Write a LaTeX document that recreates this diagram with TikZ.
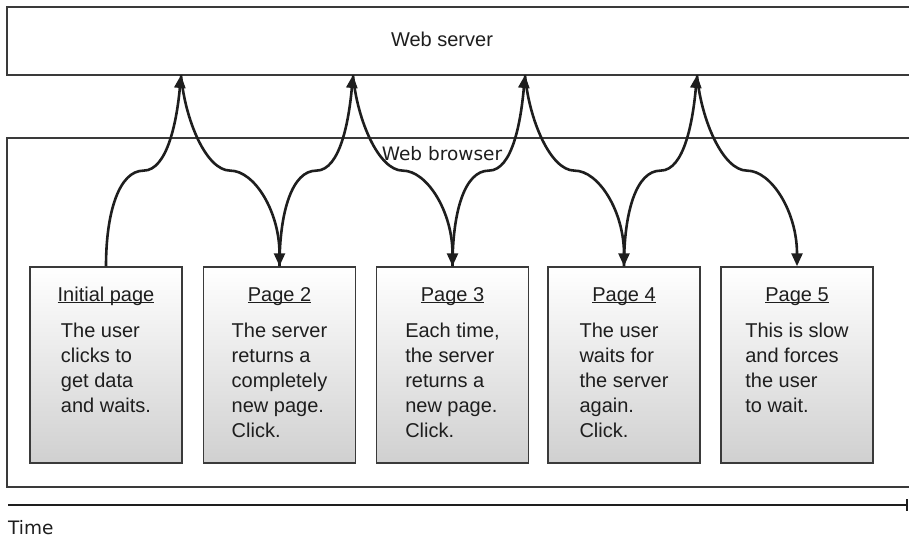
\documentclass[tikz,border=0pt]{standalone}
\usepackage{fontspec}
\setmainfont{Liberation Sans}
\newfontfamily\verdfont{DejaVu Sans}
\usetikzlibrary{calc,arrows.meta}
\definecolor{inkx}{HTML}{1E1E1E}
\definecolor{edgex}{HTML}{3A3A3A}
\definecolor{shadex}{HTML}{D0D0D0}
\tikzset{
  ar/.style={-{Triangle[length=13pt,width=11pt]},line width=2.6pt,inkx},
  pagebox/.style={draw=edgex,line width=1.5pt,top color=white,bottom color=shadex,minimum width=152pt,minimum height=196pt,inner sep=0pt},
  areabox/.style={draw=edgex,line width=1.4pt,inner sep=0pt},
  ttl/.style={font=\fontsize{20}{25}\selectfont,text=inkx,inner sep=0pt,anchor=base},
  body/.style={font=\fontsize{20}{25}\selectfont,text=inkx,align=left,inner sep=0pt,anchor=north},
  vlbl/.style={font=\verdfont\fontsize{18.5}{22}\selectfont,text=inkx,inner sep=0pt}
}
\newcommand{\pgttl}[1]{\underline{\smash{#1}}}

\begin{document}
\begin{tikzpicture}[x=1pt,y=-1pt]
\useasboundingbox (0,0) rectangle (909,538);
% server and browser areas
\node[areabox,minimum width=908pt,minimum height=68pt] (server) at (461,41) {};
\node[ttl] (srvlbl) at (442,46) {Web server};
\node[areabox,minimum width=908pt,minimum height=349pt] (browser) at (461,312.5) {};
\node[vlbl,anchor=base] (brlbl) at (442,160) {Web browser};
% pages
\node[pagebox] (p1) at (106,365) {};
\node[pagebox] (p2) at (279.5,365) {};
\node[pagebox] (p3) at (452.5,365) {};
\node[pagebox] (p4) at (624,365) {};
\node[pagebox] (p5) at (797,365) {};
\node[ttl] (p1t) at ($(p1.north)+(0,35)$) {\pgttl{Initial page}};
\node[ttl] (p2t) at ($(p2.north)+(0,35)$) {\pgttl{Page 2}};
\node[ttl] (p3t) at ($(p3.north)+(0,35)$) {\pgttl{Page 3}};
\node[ttl] (p4t) at ($(p4.north)+(0,35)$) {\pgttl{Page 4}};
\node[ttl] (p5t) at ($(p5.north)+(0,35)$) {\pgttl{Page 5}};
\node[body] (p1b) at ($(p1.north)+(0,56.5)$) {The user\\clicks to\\get data\\and waits.};
\node[body] (p2b) at ($(p2.north)+(0,56.5)$) {The server\\returns a\\completely\\new page.\\Click.};
\node[body] (p3b) at ($(p3.north)+(0,56.5)$) {Each time,\\the server\\returns a\\new page.\\Click.};
\node[body] (p4b) at ($(p4.north)+(0,56.5)$) {The user\\waits for\\the server\\again.\\Click.};
\node[body] (p5b) at ($(p5.north)+(0,56.5)$) {This is slow\\and forces\\the user\\to wait.};
% requests and responses
\coordinate (s1) at (181,75);
\coordinate (s2) at (353,75);
\coordinate (s3) at (525,75);
\coordinate (s4) at (697,75);
\draw[ar] (p1.north) .. controls +(0,-55) and +(-24,0) .. ($(p1.north)!.5!(s1)$) .. controls +(24,0) and +(-4,45) .. (s1);
\draw[ar] (s1) .. controls +(4,45) and +(-24,0) .. ($(s1)!.5!(p2.north)$) .. controls +(24,0) and +(0,-55) .. (p2.north);
\draw[ar] (p2.north) .. controls +(0,-55) and +(-24,0) .. ($(p2.north)!.5!(s2)$) .. controls +(24,0) and +(-4,45) .. (s2);
\draw[ar] (s2) .. controls +(4,45) and +(-24,0) .. ($(s2)!.5!(p3.north)$) .. controls +(24,0) and +(0,-55) .. (p3.north);
\draw[ar] (p3.north) .. controls +(0,-55) and +(-24,0) .. ($(p3.north)!.5!(s3)$) .. controls +(24,0) and +(-4,45) .. (s3);
\draw[ar] (s3) .. controls +(4,45) and +(-24,0) .. ($(s3)!.5!(p4.north)$) .. controls +(24,0) and +(0,-55) .. (p4.north);
\draw[ar] (p4.north) .. controls +(0,-55) and +(-24,0) .. ($(p4.north)!.5!(s4)$) .. controls +(24,0) and +(-4,45) .. (s4);
\draw[ar] (s4) .. controls +(4,45) and +(-24,0) .. ($(s4)!.5!(p5.north)$) .. controls +(24,0) and +(0,-55) .. (p5.north);
% time axis
\coordinate (t0) at (8,505);
\coordinate (t1) at (908,505);
\draw[inkx,line width=2pt,-{Bar[width=12pt,line width=2pt]}] (t0) -- (t1);
\node[vlbl,anchor=base west] (tlbl) at (8,534) {Time};
\end{tikzpicture}
\end{document}
